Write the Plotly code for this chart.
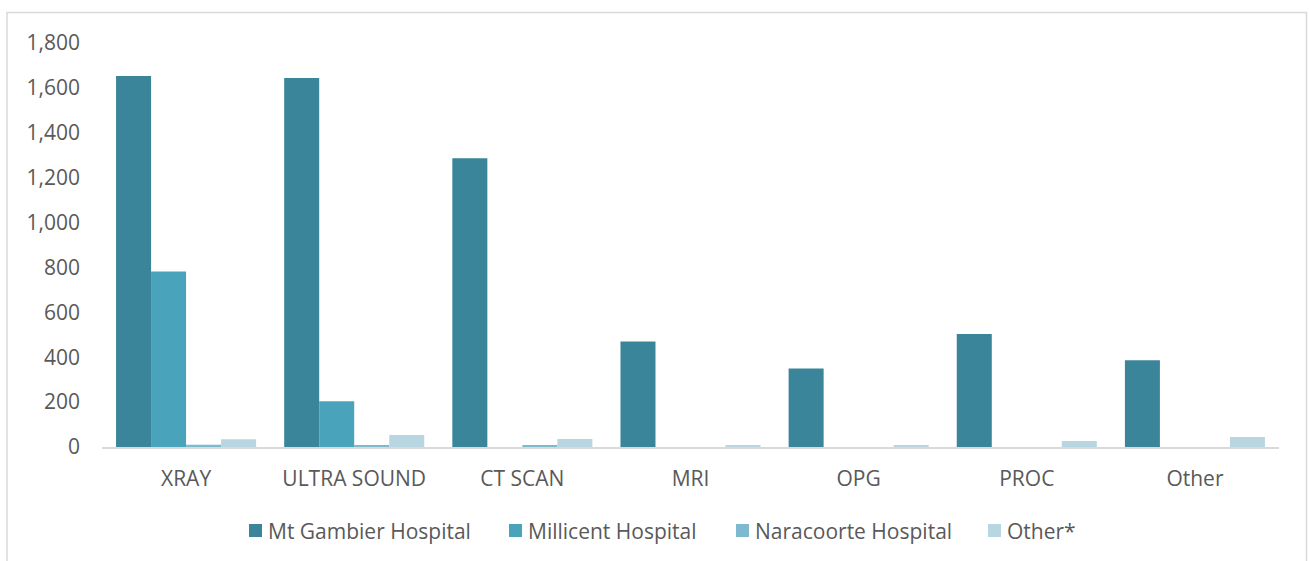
import plotly.graph_objects as go

# Imaging activity by modality and site
categories = ["XRAY", "ULTRA SOUND", "CT SCAN", "MRI", "OPG", "PROC", "Other"]
mt_gambier = [1653, 1644, 1286, 470, 350, 504, 387]
millicent = [782, 204, 0, 0, 0, 0, 0]
naracoorte = [10, 5, 5, 0, 0, 0, 0]
other_sites = [34, 53, 36, 5, 5, 27, 44]

series_names = ["Mt Gambier Hospital", "Millicent Hospital", "Naracoorte Hospital", "Other*"]
series_values = [mt_gambier, millicent, naracoorte, other_sites]
series_colors = ["#3A8599", "#48A3BB", "#7DB9CF", "#B7D6E1"]

y_ticks = [0, 200, 400, 600, 800, 1000, 1200, 1400, 1600, 1800]

W, H = 1309, 561
ML, MR, MT, MB = 102, 30, 43, 114
plot_w = W - ML - MR
plot_h = H - MT - MB


def px_x(px):
    return (px - ML) / plot_w


def px_y(py):
    return (H - MB - py) / plot_h


fig = go.Figure()
for name, vals, col in zip(series_names, series_values, series_colors):
    fig.add_trace(go.Bar(
        x=categories, y=vals, name=name,
        marker=dict(color=col, line=dict(width=0)),
    ))

# outer chart frame (bottom edge runs past the page)
fig.add_shape(
    type="rect", xref="paper", yref="paper",
    x0=px_x(7), x1=px_x(1306.5), y0=px_y(H + 20), y1=px_y(12.5),
    line=dict(color="#D9D9D9", width=1.5), fillcolor="rgba(0,0,0,0)", layer="below",
)

# legend row below the axis: swatch + label per series
legend_text_x = [268, 528, 755, 1007]
legend_cy = 530.5
for name, col, tx in zip(series_names, series_colors, legend_text_x):
    fig.add_shape(
        type="rect", xref="paper", yref="paper",
        x0=px_x(tx - 19), x1=px_x(tx - 6),
        y0=px_y(legend_cy + 6.5), y1=px_y(legend_cy - 6.5),
        line=dict(width=0), fillcolor=col,
    )
    fig.add_annotation(
        xref="paper", yref="paper", x=px_x(tx - 2), y=px_y(legend_cy),
        xanchor="left", yanchor="middle", showarrow=False, text=name,
        font=dict(family="Open Sans", size=21, color="#595959"),
    )

fig.update_layout(
    width=W, height=H,
    margin=dict(l=ML, r=MR, t=MT, b=MB),
    paper_bgcolor="white", plot_bgcolor="white",
    font=dict(family="Open Sans", size=21, color="#595959"),
    barmode="group", bargap=0.167, bargroupgap=0,
    showlegend=False,
    xaxis=dict(
        showline=True, linecolor="#D9D9D9", linewidth=2,
        showgrid=False, ticks="", ticklabelstandoff=12,
    ),
    yaxis=dict(
        range=[0, 1800], tickvals=y_ticks, tickformat=",",
        showgrid=False, zeroline=False, showline=False, ticks="",
        ticklabelstandoff=21,
    ),
)

fig.write_html("out.html")
